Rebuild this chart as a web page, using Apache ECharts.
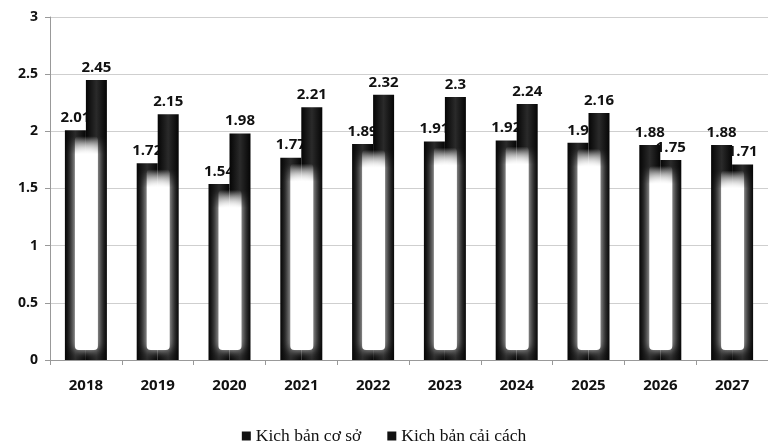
<!DOCTYPE html>
<html>
<head>
<meta charset="utf-8">
<style>
  html, body { margin: 0; padding: 0; background: #fff; }
  #chart { width: 768px; height: 441px; }
</style>
<script src="https://cdn.jsdelivr.net/npm/echarts@6/dist/echarts.min.js"></script>
</head>
<body>
<div id="chart"></div>
<script>
// năm + hai kịch bản
const years = ['2018', '2019', '2020', '2021', '2022', '2023', '2024', '2025', '2026', '2027'];
const baseScenario = [2.01, 1.72, 1.54, 1.77, 1.89, 1.91, 1.92, 1.9, 1.88, 1.88];
const reformScenario = [2.45, 2.15, 1.98, 2.21, 2.32, 2.3, 2.24, 2.16, 1.75, 1.71];
const seriesNames = ['Kịch bản cơ sở', 'Kịch bản cải cách'];

const chart = echarts.init(document.getElementById('chart'));
const BAR_W = 21;

// đen ở mép, hơi xám ở giữa
const barFill = new echarts.graphic.LinearGradient(0, 0, 1, 0, [
  { offset: 0, color: '#050505' },
  { offset: 0.5, color: '#2a2a2a' },
  { offset: 1, color: '#050505' }
]);

const labelStyle = {
  show: true,
  position: 'top',
  distance: 5,
  color: '#111',
  fontFamily: 'Open Sans',
  fontWeight: 'bold',
  fontSize: 15
};

// phần lõi trắng "phát sáng" bên trong mỗi cặp cột
function renderGlow(params, api) {
  const i = api.value(0);
  const p0 = api.coord([i, 0]);
  const pb = api.coord([i, api.value(1)]);
  const pr = api.coord([i, api.value(2)]);
  const cx = p0[0];
  const x1 = cx - BAR_W + 10;
  const x2 = cx + BAR_W - 9;
  const top = Math.max(pb[1], pr[1]) + 6;
  const bottom = p0[1] - 10;
  const h = bottom - top;
  const fade = Math.min(0.9, 18 / h);
  return {
    type: 'rect',
    shape: { x: x1, y: top, width: x2 - x1, height: h, r: 4 },
    style: {
      fill: new echarts.graphic.LinearGradient(0, 0, 0, 1, [
        { offset: 0, color: 'rgba(255,255,255,0)' },
        { offset: fade, color: 'rgba(255,255,255,1)' },
        { offset: 1, color: 'rgba(255,255,255,1)' }
      ]),
      shadowBlur: 10,
      shadowColor: 'rgba(255,255,255,0.85)'
    }
  };
}

chart.setOption({
  backgroundColor: '#fff',
  animation: false,
  grid: { left: 50, right: 0, top: 17, bottom: 81 },
  legend: {
    top: 422,
    left: 'center',
    icon: 'rect',
    itemWidth: 9,
    itemHeight: 9,
    itemGap: 26,
    textStyle: { fontFamily: 'Liberation Serif', fontSize: 17.5, color: '#111' },
    data: seriesNames.map(n => ({ name: n, itemStyle: { color: '#111' } }))
  },
  xAxis: {
    type: 'category',
    data: years,
    axisLine: { lineStyle: { color: '#999' } },
    axisTick: { show: true, length: 5, lineStyle: { color: '#999' } },
    axisLabel: {
      color: '#111', fontFamily: 'Open Sans', fontWeight: 'bold', fontSize: 15, margin: 18
    }
  },
  yAxis: {
    type: 'value',
    min: 0,
    max: 3,
    interval: 0.5,
    axisLine: { show: true, lineStyle: { color: '#999' } },
    axisTick: { show: true, length: 5, lineStyle: { color: '#999' } },
    splitLine: { lineStyle: { color: '#cfcfcf' } },
    axisLabel: {
      color: '#111', fontFamily: 'Open Sans', fontWeight: 'bold', fontSize: 14, margin: 12
    }
  },
  series: [
    {
      name: seriesNames[0],
      type: 'bar',
      z: 2,
      barWidth: BAR_W,
      barGap: '0%',
      data: baseScenario,
      itemStyle: { color: barFill },
      label: labelStyle
    },
    {
      name: seriesNames[1],
      type: 'bar',
      z: 3,
      barWidth: BAR_W,
      barGap: '0%',
      data: reformScenario,
      itemStyle: { color: barFill },
      label: labelStyle
    },
    {
      name: 'glow',
      type: 'custom',
      z: 4,
      silent: true,
      renderItem: renderGlow,
      encode: { x: 0, y: 1 },
      data: years.map((y, i) => [i, baseScenario[i], reformScenario[i]])
    }
  ]
});
</script>
</body>
</html>
